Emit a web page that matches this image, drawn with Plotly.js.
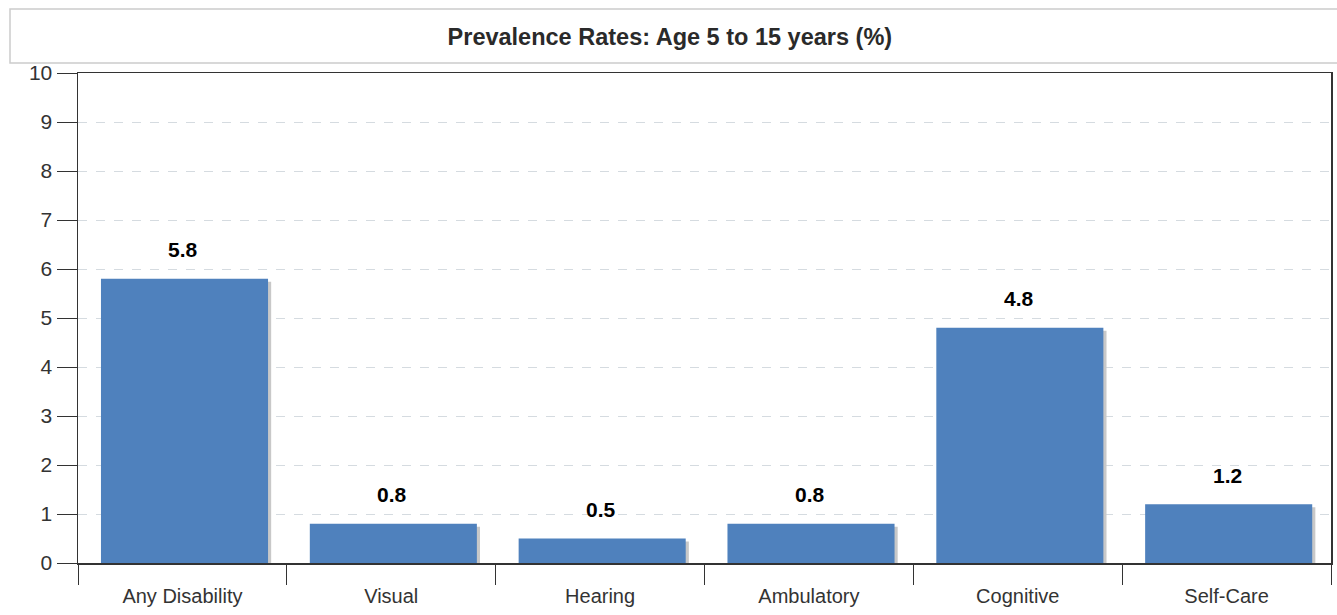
<!DOCTYPE html>
<html>
<head>
<meta charset="utf-8">
<script src="https://cdn.plot.ly/plotly-3.0.1.min.js"></script>
<style>html,body{margin:0;padding:0;background:#fff;}#chart{width:1337px;height:615px;}</style>
</head>
<body>
<div id="chart"></div>
<script>
const categories = ["Any Disability", "Visual", "Hearing", "Ambulatory", "Cognitive", "Self-Care"];
const rates = [5.8, 0.8, 0.5, 0.8, 4.8, 1.2];
const rateLabels = ["5.8", "0.8", "0.5", "0.8", "4.8", "1.2"];
const yTicks = [0, 1, 2, 3, 4, 5, 6, 7, 8, 9, 10];
const chartTitle = "Prevalence Rates: Age 5 to 15 years (%)";

const FONT = "Liberation Sans, Arial, sans-serif";
const barColor = "#4F81BD";
const shadow = {
  type: "bar", x: categories, y: rates, base: rates.map(() => -0.06),
  width: 0.8, offset: -0.375, marker: {color: "#c8c8c8", line: {width: 0}},
  hoverinfo: "skip", showlegend: false
};
const bars = {
  type: "bar", x: categories, y: rates,
  width: 0.8, offset: -0.39, marker: {color: barColor, line: {width: 0}},
  showlegend: false
};
const annotations = categories.map((c, i) => ({
  x: c, y: rates[i], xref: "x", yref: "y", text: "<b>" + rateLabels[i] + "</b>",
  showarrow: false, yanchor: "middle", yshift: 29, xshift: 1,
  font: {family: FONT, size: 21, color: "#000"}
}));

const layout = {
  width: 1337, height: 615,
  margin: {l: 78, r: 6, t: 73, b: 52},
  paper_bgcolor: "#fff", plot_bgcolor: "#fff",
  barmode: "overlay",
  title: {text: "<b>" + chartTitle + "</b>", x: 0.501, xanchor: "center", y: 1 - 37/615, yanchor: "middle", yref: "container",
    font: {family: FONT, size: 23.5, color: "#2a2a2a"}},
  xaxis: {
    type: "category", tickson: "boundaries", ticks: "outside", ticklen: 20, tickcolor: "#333", tickwidth: 1,
    showline: true, linecolor: "#333", linewidth: 1.5, mirror: true, showgrid: false, zeroline: false,
    tickfont: {family: FONT, size: 20, color: "#333"},
    ticklabelstandoff: 14, fixedrange: true
  },
  yaxis: {
    range: [0, 10], tickvals: yTicks, ticktext: yTicks.map(String), ticks: "outside", ticklen: 20, tickcolor: "#333", tickwidth: 1,
    showline: true, linecolor: "#333", linewidth: 1.5, mirror: true,
    showgrid: true, gridcolor: "#d5dbe0", griddash: "dash", gridwidth: 1, zeroline: false,
    tickfont: {family: FONT, size: 21, color: "#333"},
    ticklabelstandoff: 0, fixedrange: true
  },
  shapes: [{
    type: "rect", xref: "paper", yref: "paper",
    x0: (10 - 78) / 1253, x1: 1.02, y0: (563 - 63) / 490, y1: (563 - 9) / 490,
    line: {color: "#cccccc", width: 1.5}, fillcolor: "rgba(0,0,0,0)"
  }],
  annotations: annotations
};
Plotly.newPlot("chart", [shadow, bars], layout, {displayModeBar: false, staticPlot: true});
</script>
</body>
</html>
